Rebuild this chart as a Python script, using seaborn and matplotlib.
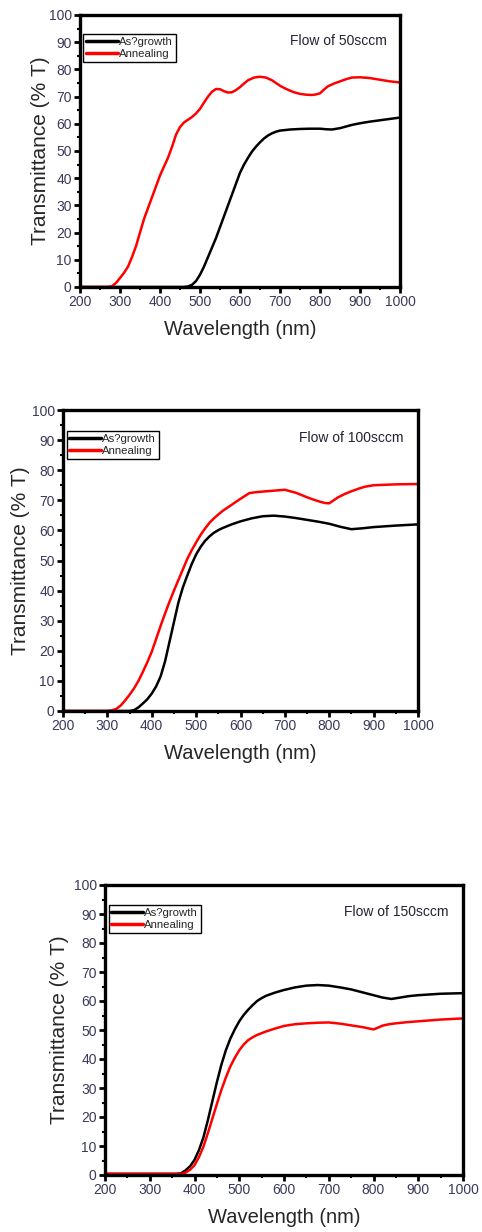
import matplotlib
matplotlib.use("Agg")
import matplotlib.pyplot as plt
import seaborn as sns
import pandas as pd

sns.set_theme(style="white")
plt.rcParams['font.family'] = ['Liberation Sans', 'DejaVu Sans']

# ---- Panel 1: Flow of 50sccm ----
p1_grow_x = [200, 300, 400, 460, 470, 480, 490, 500, 510, 520, 530, 540, 550, 560, 570, 580, 590, 600, 610, 620, 630, 640, 650, 660, 670, 680, 690, 700, 725, 750, 775, 800, 815, 830, 850, 865, 880, 900, 925, 950, 975, 1000]
p1_grow_y = [0, 0, 0, 0, 0.2, 0.8, 2.2, 4.5, 7.5, 11, 14.5, 18, 22, 26, 30, 34, 38, 42, 45, 47.5, 49.8, 51.6, 53.2, 54.6, 55.7, 56.5, 57.1, 57.5, 57.9, 58.1, 58.2, 58.2, 58, 57.9, 58.4, 59, 59.6, 60.2, 60.8, 61.3, 61.8, 62.3]
p1_ann_x = [200, 270, 280, 290, 300, 310, 320, 330, 340, 350, 360, 370, 380, 390, 400, 410, 420, 430, 440, 450, 460, 470, 480, 490, 500, 510, 520, 530, 540, 550, 560, 570, 580, 590, 600, 610, 620, 635, 650, 665, 680, 690, 700, 710, 720, 735, 750, 765, 780, 790, 800, 810, 820, 835, 850, 865, 880, 900, 925, 950, 975, 1000]
p1_ann_y = [0, 0, 0.3, 1.5, 3.3, 5.2, 7.5, 11, 15, 20, 25, 29, 33, 37, 41, 44.3, 47.5, 51.5, 56, 58.8, 60.5, 61.5, 62.5, 63.8, 65.5, 67.8, 70, 71.8, 72.8, 72.7, 72, 71.5, 71.6, 72.4, 73.5, 74.8, 76, 77, 77.3, 77, 76, 75, 74, 73.2, 72.5, 71.6, 71, 70.7, 70.6, 70.8, 71.2, 72.6, 73.8, 74.8, 75.6, 76.4, 77, 77.1, 76.8, 76.2, 75.6, 75.2]

# ---- Panel 2: Flow of 100sccm ----
p2_grow_x = [200, 300, 350, 360, 370, 380, 390, 400, 410, 420, 430, 440, 450, 460, 470, 480, 490, 500, 510, 520, 530, 540, 550, 560, 580, 600, 625, 650, 675, 700, 725, 750, 775, 800, 825, 850, 875, 900, 950, 1000]
p2_grow_y = [0, 0, 0, 0.3, 1.2, 2.5, 3.9, 5.8, 8.2, 11.5, 16.5, 23, 29.5, 36, 41, 45, 48.8, 52, 54.5, 56.5, 58, 59.2, 60.1, 60.8, 62, 63, 64, 64.7, 64.9, 64.6, 64.1, 63.5, 62.9, 62.2, 61.2, 60.4, 60.7, 61.1, 61.6, 62]
p2_ann_x = [200, 300, 310, 320, 330, 340, 350, 360, 370, 380, 390, 400, 410, 420, 430, 440, 450, 460, 470, 480, 490, 500, 510, 520, 530, 540, 550, 560, 580, 600, 620, 635, 650, 675, 700, 725, 750, 765, 780, 790, 800, 810, 820, 835, 850, 865, 880, 900, 950, 1000]
p2_ann_y = [0, 0, 0.2, 0.7, 1.8, 3.5, 5.4, 7.5, 10, 13, 16.2, 19.7, 24, 28.3, 32.4, 36.3, 40, 43.5, 47, 50.5, 53.4, 56, 58.5, 60.6, 62.5, 64, 65.3, 66.5, 68.5, 70.5, 72.4, 72.7, 72.9, 73.2, 73.5, 72.5, 71, 70.2, 69.5, 69.1, 69, 70, 71, 72.1, 73, 73.8, 74.5, 75, 75.3, 75.4]

# ---- Panel 3: Flow of 150sccm ----
p3_grow_x = [200, 300, 360, 370, 380, 390, 400, 410, 420, 430, 440, 450, 460, 470, 480, 490, 500, 510, 520, 530, 540, 550, 560, 580, 600, 625, 650, 675, 700, 725, 750, 775, 800, 820, 840, 860, 880, 900, 950, 1000]
p3_grow_y = [0.4, 0.4, 0.4, 0.6, 1.6, 3, 5.2, 8.6, 13, 19, 25.5, 32, 38, 43, 47, 50.2, 53, 55.2, 57, 58.6, 60, 61, 61.8, 62.9, 63.8, 64.7, 65.3, 65.5, 65.3, 64.7, 64, 63, 62, 61.2, 60.7, 61.2, 61.7, 62, 62.5, 62.7]
p3_ann_x = [200, 300, 370, 380, 390, 400, 410, 420, 430, 440, 450, 460, 470, 480, 490, 500, 510, 520, 530, 540, 550, 560, 580, 600, 625, 650, 675, 700, 725, 750, 775, 800, 810, 820, 835, 850, 875, 900, 950, 1000]
p3_ann_y = [0.4, 0.4, 0.4, 0.8, 1.8, 3.4, 6.2, 9.8, 14.5, 19.5, 24.5, 29.3, 33.6, 37.4, 40.4, 43, 45, 46.5, 47.5, 48.3, 48.9, 49.5, 50.5, 51.4, 52, 52.3, 52.5, 52.6, 52.2, 51.6, 51, 50.2, 50.8, 51.5, 52, 52.3, 52.7, 53, 53.6, 54]

labels = ["As?growth", "Annealing"]
titles = ["Flow\u00a0of\u00a050sccm", "Flow\u00a0of\u00a0100sccm", "Flow\u00a0of\u00a0150sccm"]
xticks = [200, 300, 400, 500, 600, 700, 800, 900, 1000]
yticks = [0, 10, 20, 30, 40, 50, 60, 70, 80, 90, 100]

panels = [
    (p1_grow_x, p1_grow_y, p1_ann_x, p1_ann_y),
    (p2_grow_x, p2_grow_y, p2_ann_x, p2_ann_y),
    (p3_grow_x, p3_grow_y, p3_ann_x, p3_ann_y),
]

W, H = 482, 1232
fig = plt.figure(figsize=(W / 100, H / 100), dpi=100)

# axes boxes in pixels: left, top, right, bottom
boxes = [(80, 15, 400, 287), (63, 410, 418, 711), (105, 885, 463, 1175)]
ylabelpads = [-1, 1, 3]
tick_color = "#3a3a5a"

for i, ((gx, gy, ax_, ay), (l, t, r, b)) in enumerate(zip(panels, boxes)):
    ax = fig.add_axes([l / W, 1 - b / H, (r - l) / W, (b - t) / H])
    df = pd.concat([
        pd.DataFrame({"Wavelength": gx, "T": gy, "Sample": labels[0]}),
        pd.DataFrame({"Wavelength": ax_, "T": ay, "Sample": labels[1]}),
    ])
    sns.lineplot(data=df, x="Wavelength", y="T", hue="Sample",
                 palette={labels[0]: "black", labels[1]: "#ff0000"},
                 linewidth=1.8, ax=ax, sort=False)
    ax.set_xlim(200, 1000)
    ax.set_ylim(0, 100)
    ax.set_xticks(xticks)
    ax.set_yticks(yticks)
    ax.set_xticks(range(250, 1000, 100), minor=True)
    ax.set_yticks(range(5, 100, 10), minor=True)
    ax.tick_params(axis="both", which="major", direction="out", length=4, width=2,
                   labelsize=10, colors="black", labelcolor=tick_color, pad=2,
                   bottom=True, left=True)
    ax.tick_params(axis="both", which="minor", direction="out", length=2, width=1.5,
                   bottom=True, left=True, colors="black")
    for s in ax.spines.values():
        s.set_visible(True)
        s.set_linewidth(2.4)
        s.set_color("black")
    ax.set_xlabel("Wavelength\u00a0(nm)", fontsize=14.5, labelpad=8)
    ax.set_ylabel("Transmittance\u00a0(%\u00a0T)", fontsize=15, labelpad=ylabelpads[i])
    leg = ax.legend(loc="upper left", bbox_to_anchor=(0.01, 0.93), fontsize=8.2,
                    frameon=True, fancybox=False, edgecolor="black", framealpha=1,
                    handlelength=2.8, handletextpad=0.1, borderpad=0.25,
                    labelspacing=0.2, borderaxespad=0)
    leg.get_frame().set_linewidth(1.0)
    for line in leg.get_lines():
        line.set_linewidth(2.5)
    ax.text(0.96, 0.93, titles[i], transform=ax.transAxes, ha="right", va="top",
            fontsize=10, color="#222233")

fig.savefig("out.png", dpi=100)
